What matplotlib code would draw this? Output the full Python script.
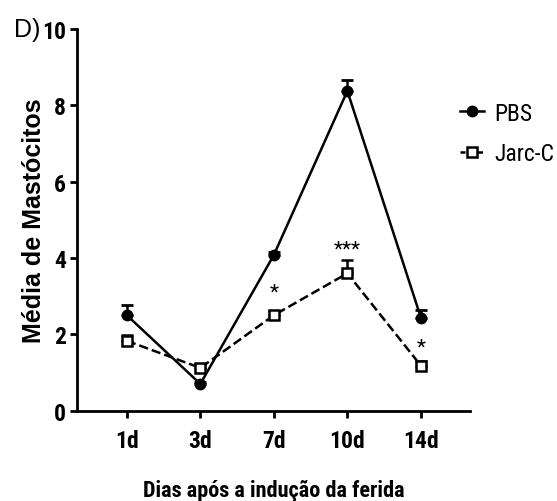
import matplotlib.pyplot as plt
from matplotlib import font_manager
from matplotlib.lines import Line2D

days = ['1d', '3d', '7d', '10d', '14d']
pbs_mean = [2.5, 0.7, 4.08, 8.38, 2.44]
pbs_err = [0.28, 0.05, 0.08, 0.28, 0.2]
jarc_mean = [1.83, 1.12, 2.5, 3.6, 1.18]
jarc_err = [0.15, 0.1, 0.1, 0.35, 0.12]
signif = ['', '', '*', '***', '*']
signif_y = [0, 0, 2.85, 3.98, 1.42]

# condensed font if one is installed, otherwise plain Liberation Sans
fonts = font_manager.fontManager.ttflist
names = {f.name for f in fonts}
narrow = dict(family='Liberation Sans')
for cand in ['Liberation Sans Narrow', 'Arial Narrow', 'Roboto Condensed', 'Open Sans Condensed']:
    if cand in names:
        narrow = dict(family=cand)
        break
else:
    if any(f.name == 'DejaVu Sans' and 'condensed' in str(f.stretch) for f in fonts):
        narrow = dict(family='DejaVu Sans', stretch='condensed')

fig = plt.figure(figsize=(5.57, 5.02), dpi=100)
ax = fig.add_axes([0.138, 0.18, 0.706, 0.76])

x = list(range(len(days)))
ax.errorbar(x, pbs_mean, yerr=[[0] * 5, pbs_err], color='black', lw=1.8,
            marker='o', ms=7.5, capsize=4, capthick=2, elinewidth=1.8, zorder=3)
ax.errorbar(x, jarc_mean, yerr=[[0] * 5, jarc_err], color='black', lw=1.8, ls='--',
            marker='s', ms=7.5, mfc='white', mew=1.8, capsize=4, capthick=2, elinewidth=1.8,
            zorder=3)

for xi, s, yi in zip(x, signif, signif_y):
    if s:
        ax.text(xi, yi, s, ha='center', va='bottom', fontsize=15, **narrow)

ax.set_xlim(-0.68, 4.67)
ax.set_ylim(0, 10)
ax.set_xticks(x)
ax.set_xticklabels(days)
ax.set_yticks([0, 2, 4, 6, 8, 10])
for sp in ['top', 'right']:
    ax.spines[sp].set_visible(False)
for sp in ['left', 'bottom']:
    ax.spines[sp].set_linewidth(2)
ax.tick_params(width=2, length=5, direction='out')
ax.tick_params(axis='x', pad=8)
ax.tick_params(axis='y', pad=3)
for lab in ax.get_xticklabels() + ax.get_yticklabels():
    lab.set_fontproperties(font_manager.FontProperties(weight='bold', size=17, **narrow))

ax.set_ylabel('Média de Mastócitos',
              fontproperties=font_manager.FontProperties(family='Liberation Sans',
                                                         weight='bold', size=18))
ax.yaxis.set_label_coords(-0.078, 0.5)
ax.set_xlabel('Dias após a indução da ferida', fontsize=16, fontweight='bold',
              labelpad=20, **narrow)

fig.text(0.025, 0.94, 'D)', fontsize=18, family='Liberation Sans', va='center')

handles = [Line2D([], [], color='black', lw=1.8, marker='o', ms=7.5),
           Line2D([], [], color='black', lw=1.8, ls=(0, (2, 1.5)), marker='s', ms=7.5,
                  mfc='white', mew=1.8)]
ax.legend(handles, ['PBS', 'Jarc-C'], loc='upper left', bbox_to_anchor=(0.975, 0.81),
          frameon=False, borderpad=0, borderaxespad=0, handlelength=1.0,
          handletextpad=0.45, labelspacing=0.75,
          prop=font_manager.FontProperties(size=17, **narrow))

fig.savefig('out.png', dpi=100)
